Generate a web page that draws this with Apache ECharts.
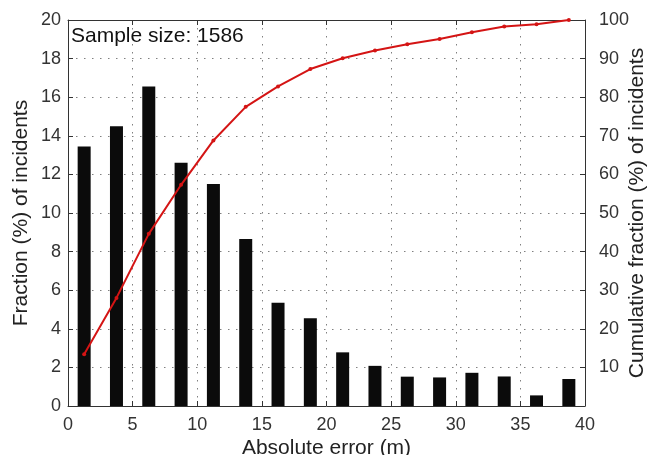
<!DOCTYPE html>
<html>
<head>
<meta charset="utf-8">
<script src="https://cdn.jsdelivr.net/npm/echarts@6/dist/echarts.min.js"></script>
<style>
  html, body { margin: 0; padding: 0; background: #fff; }
  #chart { width: 649px; height: 455px; }
</style>
</head>
<body>
<div id="chart"></div>
<script>
// Histogram of absolute position error, 2.5 m bins
const binCenters = [1.25, 3.75, 6.25, 8.75, 11.25, 13.75, 16.25, 18.75, 21.25, 23.75, 26.25, 28.75, 31.25, 33.75, 36.25, 38.75];
const fractionPct = [13.45, 14.5, 16.55, 12.6, 11.5, 8.65, 5.35, 4.55, 2.78, 2.08, 1.52, 1.48, 1.72, 1.53, 0.55, 1.4];
const cumulativePct = [13.4, 28.0, 44.6, 57.3, 68.8, 77.5, 82.8, 87.3, 90.1, 92.1, 93.7, 95.1, 96.8, 98.3, 98.9, 100];
const xTicks = { min: 0, max: 40, interval: 5 };
const leftTicks = { min: 0, max: 20, interval: 2 };
const rightTicks = { min: 0, max: 100, interval: 10 };
const sampleLabel = 'Sample size: 1586';

const FONT = '"Liberation Sans", Arial, Helvetica, sans-serif';
const AXIS_COLOR = '#333';
const dotted = { color: '#808080', width: 1, type: [1.5, 6.5] };

const chart = echarts.init(document.getElementById('chart'), null, { renderer: 'canvas' });

chart.setOption({
  animation: false,
  backgroundColor: '#fff',
  textStyle: { fontFamily: FONT },
  title: {
    text: sampleLabel,
    left: 71,
    top: 26,
    padding: 0,
    textStyle: { fontFamily: FONT, fontSize: 21, fontWeight: 'normal', color: '#111' }
  },
  grid: { left: 68, right: 64, top: 20, bottom: 49, containLabel: false, outerBoundsMode: 'none' },
  xAxis: [
    {
      type: 'value',
      position: 'bottom',
      min: xTicks.min, max: xTicks.max, interval: xTicks.interval,
      name: 'Absolute error (m)',
      nameLocation: 'middle',
      nameGap: 32,
      nameMoveOverlap: false,
      nameTextStyle: { fontFamily: FONT, fontSize: 21, color: '#222' },
      axisLine: { show: true, onZero: false, lineStyle: { color: AXIS_COLOR, width: 1 } },
      axisTick: { show: true, inside: true, length: 5, lineStyle: { color: AXIS_COLOR } },
      axisLabel: { show: true, margin: 10, fontFamily: FONT, fontSize: 18, color: '#333' },
      splitLine: { show: true, lineStyle: dotted }
    },
    {
      type: 'value',
      position: 'top',
      min: xTicks.min, max: xTicks.max, interval: xTicks.interval,
      axisLine: { show: true, onZero: false, lineStyle: { color: AXIS_COLOR, width: 1 } },
      axisTick: { show: true, inside: true, length: 5, lineStyle: { color: AXIS_COLOR } },
      axisLabel: { show: false },
      splitLine: { show: false }
    }
  ],
  yAxis: [
    {
      type: 'value',
      position: 'left',
      min: leftTicks.min, max: leftTicks.max, interval: leftTicks.interval,
      name: 'Fraction (%) of incidents',
      nameLocation: 'middle',
      nameRotate: 90,
      nameGap: 36,
      nameMoveOverlap: false,
      nameTextStyle: { fontFamily: FONT, fontSize: 21, color: '#222' },
      axisLine: { show: true, onZero: false, lineStyle: { color: AXIS_COLOR, width: 1 } },
      axisTick: { show: true, inside: true, length: 5, lineStyle: { color: AXIS_COLOR } },
      axisLabel: { show: true, margin: 7, fontFamily: FONT, fontSize: 18, color: '#333' },
      splitLine: { show: true, lineStyle: dotted }
    },
    {
      type: 'value',
      position: 'right',
      min: rightTicks.min, max: rightTicks.max, interval: rightTicks.interval,
      name: 'Cumulative fraction (%) of incidents',
      nameLocation: 'middle',
      nameRotate: 90,
      nameGap: 42,
      nameMoveOverlap: false,
      nameTextStyle: { fontFamily: FONT, fontSize: 21, color: '#222' },
      axisLine: { show: true, onZero: false, lineStyle: { color: AXIS_COLOR, width: 1 } },
      axisTick: { show: true, inside: true, length: 5, lineStyle: { color: AXIS_COLOR } },
      axisLabel: {
        show: true, margin: 14, fontFamily: FONT, fontSize: 18, color: '#333',
        formatter: v => (v === 0 ? '' : String(v))
      },
      splitLine: { show: false }
    }
  ],
  series: [
    {
      name: 'Fraction',
      type: 'bar',
      xAxisIndex: 0,
      yAxisIndex: 0,
      barWidth: 13,
      itemStyle: { color: '#0b0b0b' },
      data: binCenters.map((x, i) => [x, fractionPct[i]]),
      z: 2
    },
    {
      name: 'Cumulative',
      type: 'line',
      xAxisIndex: 0,
      yAxisIndex: 1,
      symbol: 'circle',
      symbolSize: 4,
      showSymbol: true,
      lineStyle: { color: '#d41414', width: 2 },
      itemStyle: { color: '#d41414' },
      data: binCenters.map((x, i) => [x, cumulativePct[i]]),
      z: 3
    }
  ]
});
</script>
</body>
</html>
